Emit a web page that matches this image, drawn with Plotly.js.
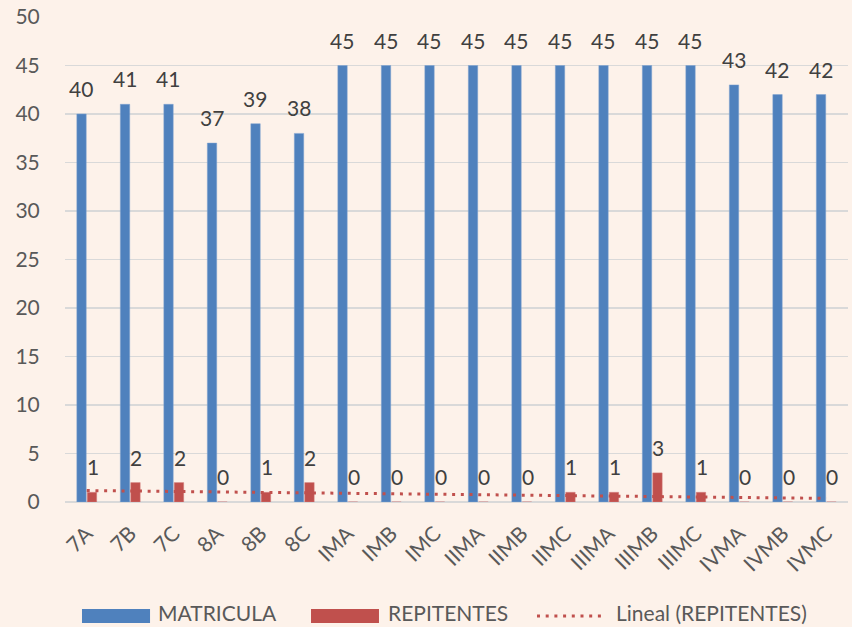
<!DOCTYPE html>
<html>
<head>
<meta charset="utf-8">
<script src="https://cdn.plot.ly/plotly-3.0.1.min.js"></script>
<style>html,body{margin:0;padding:0;background:#FDF2EA;}#chart{width:852px;height:627px;}</style>
</head>
<body>
<div id="chart"></div>
<script>
const categories = ["7A","7B","7C","8A","8B","8C","IMA","IMB","IMC","IIMA","IIMB","IIMC","IIIMA","IIIMB","IIIMC","IVMA","IVMB","IVMC"];
const matricula = [40,41,41,37,39,38,45,45,45,45,45,45,45,45,45,43,42,42];
const repitentes = [1,2,2,0,1,2,0,0,0,0,0,1,1,3,1,0,0,0];
const yTicks = [0,5,10,15,20,25,30,35,40,45,50];

// linear trendline (least squares) of REPITENTES over category index
const n = repitentes.length;
const xs = repitentes.map((_, i) => i + 1);
const mx = xs.reduce((a,b)=>a+b,0)/n;
const my = repitentes.reduce((a,b)=>a+b,0)/n;
let sxy = 0, sxx = 0;
for (let i = 0; i < n; i++) { sxy += (xs[i]-mx)*(repitentes[i]-my); sxx += (xs[i]-mx)**2; }
const slope = sxy/sxx, intercept = my - slope*mx;
const trend = xs.map(x => intercept + slope*x);

const BLUE = "#4F81BD", RED = "#C0504D", TXT = "#595959", LBL = "#404040";
const FONT = "Lato, 'Open Sans', sans-serif";

const traces = [
  {type:"bar", name:"MATRICULA", x:categories, y:matricula, marker:{color:BLUE, line:{color:"#7FA3D1", width:0.5}}, showlegend:false, hoverinfo:"x+y"},
  {type:"bar", name:"REPITENTES", x:categories, y:repitentes, marker:{color:RED, line:{color:"#D07A78", width:0.5}}, showlegend:false, hoverinfo:"x+y"},
  {type:"scatter", mode:"lines", name:"Lineal (REPITENTES)", x:categories, y:trend, line:{color:RED, width:3, dash:"3px,5.7px"}, showlegend:false, hoverinfo:"skip"}
];

const annotations = [];
categories.forEach((c, i) => {
  annotations.push({x:c, y:matricula[i], xref:"x", yref:"y", text:String(matricula[i]), showarrow:false, xshift:-5.5, yshift:11, yanchor:"bottom", font:{family:FONT, size:21, color:LBL}});
  annotations.push({x:c, y:repitentes[i], xref:"x", yref:"y", text:String(repitentes[i]), showarrow:false, xshift:6, yshift:11, yanchor:"bottom", font:{family:FONT, size:21, color:LBL}});
});
// custom legend
const legY = -0.2351, legTextY = -0.2557;
const legendItems = [
  {label:"MATRICULA", x0:0.0217, x1:0.1086, tx:0.1175, kind:"rect", color:BLUE},
  {label:"REPITENTES", x0:0.3142, x1:0.4010, tx:0.4112, kind:"rect", color:RED},
  {label:"Lineal (REPITENTES)", x0:0.6028, x1:0.6845, tx:0.7024, kind:"line", color:RED}
];
const shapes = [];
legendItems.forEach(it => {
  if (it.kind === "rect") {
    shapes.push({type:"rect", xref:"paper", yref:"paper", x0:it.x0, x1:it.x1, y0:-0.2206, y1:-0.2495, fillcolor:it.color, line:{width:0}});
  } else {
    shapes.push({type:"line", xref:"paper", yref:"paper", x0:it.x0, x1:it.x1, y0:legY, y1:legY, line:{color:it.color, width:3, dash:"3px,5.7px"}});
  }
  annotations.push({xref:"paper", yref:"paper", x:it.tx, y:legTextY, xanchor:"left", yanchor:"bottom", borderpad:0, text:it.label, showarrow:false, font:{family:FONT, size:21, color:TXT}});
});

const layout = {
  width:852, height:627,
  paper_bgcolor:"#FDF2EA", plot_bgcolor:"#FDF2EA",
  margin:{l:65, r:4, t:17, b:125},
  barmode:"group", bargap:0.52, bargroupgap:0.1,
  font:{family:FONT, size:20, color:TXT},
  showlegend:false,
  xaxis:{type:"category", tickangle:-45, tickfont:{family:FONT, size:21, color:TXT}, ticks:"outside", ticklen:10, tickcolor:"rgba(0,0,0,0)", showgrid:false, showline:false, zeroline:false},
  yaxis:{range:[0,50], tickvals:yTicks, ticktext:yTicks.map(String), tickfont:{family:FONT, size:21, color:TXT}, gridcolor:"#D9D9D9", gridwidth:1.5, zeroline:true, zerolinecolor:"#D9D9D9", zerolinewidth:2, showline:false, ticks:"outside", ticklen:20, tickcolor:"rgba(0,0,0,0)"},
  annotations:annotations,
  shapes:shapes
};
Plotly.newPlot("chart", traces, layout, {displayModeBar:false, staticPlot:true});
</script>
</body>
</html>
